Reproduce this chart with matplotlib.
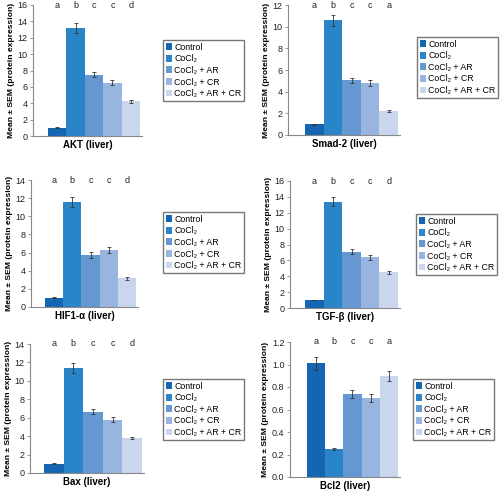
import matplotlib
matplotlib.use('Agg')
import matplotlib.pyplot as plt
from matplotlib.patches import Patch
import numpy as np

plt.rcParams['font.family'] = ['Liberation Sans', 'DejaVu Sans']

groups = ['Control', 'CoCl₂', 'CoCl₂ + AR', 'CoCl₂ + CR', 'CoCl₂ + AR + CR']
colors = ['#1466b2', '#2a84c8', '#6598d0', '#98b5df', '#c9d6ee']

titles = ['AKT (liver)', 'Smad-2 (liver)', 'HIF1-α (liver)', 'TGF-β (liver)', 'Bax (liver)', 'Bcl2 (liver)']

akt = [1.0, 13.2, 7.5, 6.5, 4.25]
akt_err = [0.05, 0.65, 0.35, 0.3, 0.2]
smad2 = [1.0, 10.6, 5.05, 4.8, 2.2]
smad2_err = [0.05, 0.5, 0.25, 0.25, 0.1]
hif1a = [1.0, 11.6, 5.75, 6.3, 3.15]
hif1a_err = [0.05, 0.55, 0.3, 0.35, 0.15]
tgfb = [1.0, 13.4, 7.1, 6.4, 4.5]
tgfb_err = [0.05, 0.6, 0.35, 0.3, 0.2]
bax = [1.0, 11.4, 6.65, 5.8, 3.8]
bax_err = [0.05, 0.55, 0.3, 0.3, 0.15]
bcl2 = [1.01, 0.25, 0.74, 0.70, 0.90]
bcl2_err = [0.055, 0.01, 0.035, 0.035, 0.045]

letters = [['a', 'b', 'c', 'c', 'd'], ['a', 'b', 'c', 'c', 'a'], ['a', 'b', 'c', 'c', 'd'],
           ['a', 'b', 'c', 'c', 'd'], ['a', 'b', 'c', 'c', 'd'], ['a', 'b', 'c', 'c', 'a']]
ymax = [16, 12, 14, 16, 14, 1.2]
ystep = [2, 2, 2, 2, 2, 0.2]

valores = [akt, smad2, hif1a, tgfb, bax, bcl2]
erros = [akt_err, smad2_err, hif1a_err, tgfb_err, bax_err, bcl2_err]

# pixel layout: axis x, y top, y zero, first bar left, last bar right, legend x, legend y
layout = [(33, 5, 136, 48, 140, 163, 40),
          (288, 5, 135, 305, 398, 417, 37),
          (31, 180, 307, 45, 136, 163, 212),
          (290, 181, 308, 305, 398, 416, 214),
          (30, 344, 473, 44, 142, 163, 379),
          (290, 342, 477, 307, 398, 413, 379)]

W, H = 500, 492
fig = plt.figure(figsize=(W / 100, H / 100), dpi=100)

for i in range(6):
    ax_x, y_top, y_zero, b_left, b_right, lx, ly = layout[i]
    unit = (b_right - b_left) / 5
    x0 = -0.5 - (b_left - ax_x) / unit
    x1 = 4.6
    ax = fig.add_axes([ax_x / W, 1 - y_zero / H, (x1 - x0) * unit / W, (y_zero - y_top) / H])
    x = np.arange(5)
    ax.bar(x, valores[i], width=1.0, color=colors, edgecolor='none', zorder=2)
    ax.errorbar(x, valores[i], yerr=erros[i], fmt='none', ecolor='#333333',
                elinewidth=0.6, capsize=1.5, capthick=0.6, zorder=3)
    ax.set_xlim(x0, x1)
    ax.set_ylim(0, ymax[i])
    ax.set_yticks(np.arange(0, ymax[i] + ystep[i] / 2, ystep[i]))
    if i == 5:
        ax.set_yticklabels(['%.1f' % v for v in np.arange(0, 1.3, 0.2)])
    ax.set_xticks([])
    for s in ['top', 'right']:
        ax.spines[s].set_visible(False)
    ax.spines['left'].set_color('#888888')
    ax.spines['left'].set_linewidth(0.8)
    ax.spines['bottom'].set_color('#888888')
    ax.spines['bottom'].set_linewidth(0.8)
    ax.tick_params(axis='y', direction='out', length=2.5, width=0.6, color='#888888',
                   labelsize=6.5, pad=1.5, labelcolor='#222222')
    ax.patch.set_visible(False)
    for j in range(5):
        ax.text(j, ymax[i], letters[i][j], ha='center', va='center', fontsize=6.5, color='#222222')
    ax.set_xlabel(titles[i], fontsize=7, fontweight='bold', labelpad=3)
    ax.set_ylabel('Mean ± SEM (protein expression)', fontsize=6.1, fontweight='bold', labelpad=2)
    handles = [Patch(facecolor=c, edgecolor='none') for c in colors]
    fig.legend(handles, groups, loc='upper left', bbox_to_anchor=(lx / W, 1 - ly / H),
               bbox_transform=fig.transFigure, borderaxespad=0, fontsize=6.3,
               handlelength=0.7, handleheight=0.8, handletextpad=0.3, labelspacing=0.3,
               borderpad=0.3, fancybox=False, framealpha=1, edgecolor='#777777')

fig.savefig('out.png', dpi=100)
